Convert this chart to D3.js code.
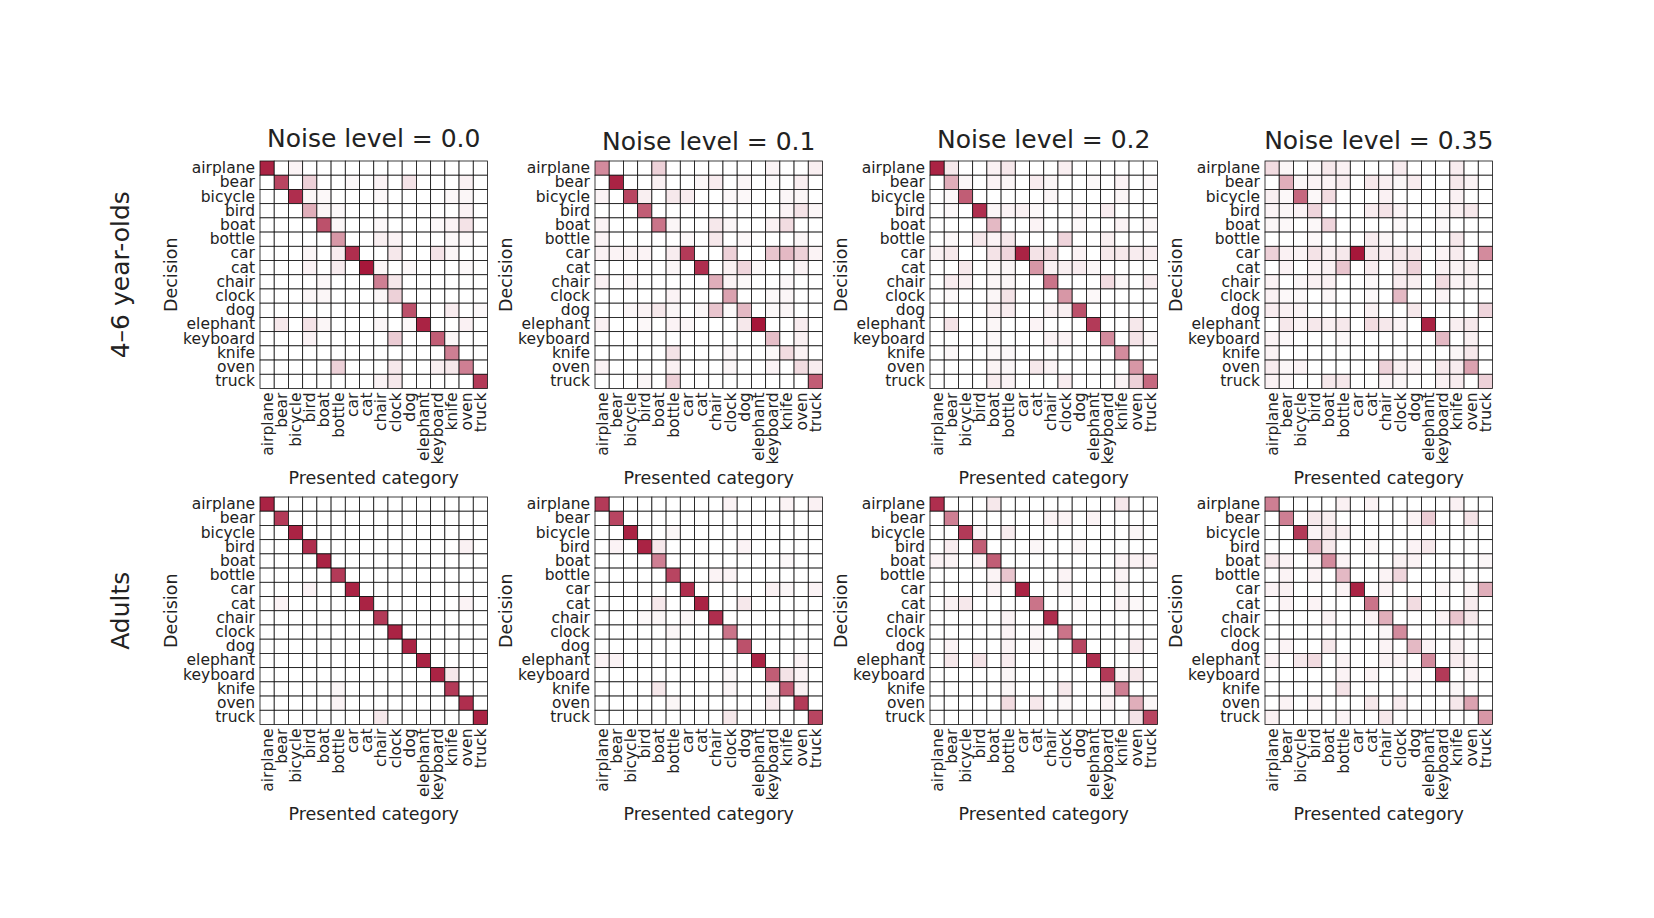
<!DOCTYPE html>
<html>
<head>
<meta charset="utf-8">
<script src="https://cdn.jsdelivr.net/npm/d3@7"></script>
<style>
  html, body { margin: 0; padding: 0; background: #fff; }
  svg text { font-family: "DejaVu Sans", sans-serif; fill: #222; }
</style>
</head>
<body>
<svg id="chart" width="1654" height="918"></svg>
<script>
// Categories (presented = columns, decision = rows)
const CATEGORIES = ["airplane", "bear", "bicycle", "bird", "boat", "bottle", "car", "cat",
  "chair", "clock", "dog", "elephant", "keyboard", "knife", "oven", "truck"];
const NOISE_LEVELS = ["0.0", "0.1", "0.2", "0.35"];
const GROUPS = ["4\u20136 year-olds", "Adults"];

// Response proportions in percent, rows = decision, cols = presented category
const KIDS_00 = [
  [95,0,5,0,0,0,0,0,0,0,0,0,0,0,0,0],
  [0,80,0,20,0,0,3,0,5,0,12,0,0,0,6,0],
  [0,0,90,4,3,0,0,0,3,0,0,0,0,3,4,0],
  [0,0,0,35,4,3,0,0,0,0,0,0,0,0,5,0],
  [0,0,0,0,75,4,0,0,3,0,0,0,3,5,12,0],
  [0,0,0,0,0,45,0,0,7,5,0,0,0,3,3,0],
  [0,0,0,4,0,8,90,0,0,10,0,0,12,4,0,0],
  [0,0,0,5,0,8,0,100,4,0,3,0,0,0,3,0],
  [0,0,0,0,3,0,0,0,55,10,0,0,0,0,0,0],
  [0,0,0,4,4,0,0,0,4,20,0,0,0,0,0,0],
  [0,0,0,0,0,0,0,0,0,0,75,0,0,8,0,3],
  [0,10,0,12,4,0,0,0,4,0,3,95,0,0,6,0],
  [0,0,0,5,0,0,0,0,0,22,0,0,70,4,0,0],
  [0,0,0,0,0,0,0,0,0,0,0,0,0,55,0,0],
  [0,0,0,0,0,20,0,0,0,10,0,0,7,10,55,0],
  [0,0,0,0,0,0,0,0,5,10,0,0,0,0,0,85]
];
const KIDS_01 = [
  [50,0,0,0,20,0,0,0,0,0,0,0,5,0,0,7],
  [0,95,0,0,6,0,0,4,8,0,4,0,3,0,7,0],
  [5,0,80,7,0,10,8,0,0,3,3,0,0,4,4,0],
  [0,0,0,70,0,0,0,0,0,0,0,0,0,5,12,4],
  [5,0,0,0,60,4,0,0,10,4,0,0,6,15,0,0],
  [5,0,0,0,0,0,3,0,10,0,3,0,0,0,4,0],
  [6,5,6,5,0,8,85,0,0,20,0,0,25,30,20,5],
  [0,0,0,0,0,4,0,90,0,6,18,3,0,0,5,0],
  [6,0,4,0,0,0,0,0,35,5,3,0,0,3,0,0],
  [0,0,0,0,0,5,0,0,0,40,0,0,3,4,0,0],
  [0,0,4,5,10,4,0,4,25,3,30,0,3,4,0,0],
  [6,0,0,3,0,5,4,0,0,0,10,100,0,0,8,0],
  [0,0,0,0,0,0,0,0,0,0,0,0,28,0,6,0],
  [0,0,0,0,0,12,0,0,0,3,0,0,3,15,5,0],
  [5,0,0,0,0,6,0,0,0,4,0,0,5,0,15,8],
  [0,0,0,4,0,20,0,0,0,0,0,0,0,0,0,70]
];
const KIDS_02 = [
  [95,10,0,0,6,10,0,0,0,7,0,0,0,0,0,0],
  [0,35,4,0,5,4,0,8,4,0,0,3,0,5,0,3],
  [0,3,70,0,0,0,0,0,4,0,0,0,0,4,0,0],
  [0,3,0,90,4,5,6,3,0,0,3,0,8,0,0,0],
  [0,0,0,0,30,0,0,5,0,0,3,0,0,5,0,4],
  [0,3,0,10,5,10,0,0,0,18,0,0,7,0,0,0],
  [6,10,0,0,12,18,95,12,15,0,5,0,10,10,8,8],
  [0,0,10,0,4,4,0,45,6,7,8,4,0,0,0,0],
  [0,8,6,0,4,4,0,0,60,0,0,0,15,4,0,8],
  [0,3,0,0,4,12,0,0,0,45,0,3,0,0,0,0],
  [0,0,0,0,6,8,0,0,5,7,75,0,0,0,0,0],
  [0,12,0,0,4,0,0,5,0,0,0,85,0,0,10,0],
  [0,0,0,0,3,0,0,0,5,5,0,0,50,0,12,4],
  [0,3,0,0,3,3,0,0,0,0,0,0,0,50,0,0],
  [0,0,0,0,5,4,0,10,5,0,0,0,0,0,45,0],
  [0,0,0,0,8,5,0,0,0,8,0,0,0,5,20,65]
];
const KIDS_035 = [
  [15,4,0,3,10,6,0,0,0,8,0,0,0,8,0,0],
  [0,35,4,5,5,8,0,10,7,4,8,0,0,10,5,0],
  [7,3,65,3,15,0,0,0,6,0,0,0,0,6,0,0],
  [5,4,5,18,0,0,0,8,12,5,0,0,4,7,10,0],
  [4,3,0,3,18,0,0,0,0,3,0,0,3,0,0,0],
  [0,0,0,3,0,0,0,8,4,0,0,0,0,10,0,0],
  [20,6,5,12,7,10,100,10,8,10,10,0,5,8,0,50],
  [0,5,0,5,6,25,0,8,0,8,20,0,6,5,7,0],
  [5,0,4,6,6,0,0,3,0,8,7,0,15,5,5,0],
  [6,3,3,0,4,0,0,3,0,30,0,0,5,0,0,0],
  [8,6,5,0,0,0,0,6,0,0,10,0,0,0,0,18],
  [0,10,5,10,7,10,0,15,10,5,0,95,0,7,10,0],
  [5,3,0,0,0,3,0,0,0,0,0,0,30,0,6,0],
  [5,0,0,0,0,0,0,0,0,0,0,0,0,4,10,0],
  [8,4,5,0,0,0,0,0,20,7,5,0,10,8,40,0],
  [6,4,0,0,10,10,0,0,5,4,0,0,6,8,0,20]
];
const ADULTS_00 = [
  [95,0,0,0,0,0,0,0,0,0,0,0,0,0,0,0],
  [0,85,0,0,0,0,0,0,0,0,0,0,0,0,0,0],
  [0,0,95,0,0,0,0,0,0,0,0,0,0,0,0,0],
  [0,0,0,90,0,0,0,0,0,0,0,0,0,0,6,0],
  [0,0,0,0,95,0,0,0,0,0,0,0,0,0,0,0],
  [0,0,0,0,0,85,0,0,0,0,0,0,0,0,0,0],
  [0,0,0,5,0,0,95,0,0,0,0,0,0,0,0,0],
  [0,5,0,0,0,0,0,95,0,0,0,0,0,0,5,0],
  [0,0,0,0,0,0,0,0,85,0,0,0,0,0,0,0],
  [0,0,0,0,0,0,0,0,0,95,0,0,0,0,0,0],
  [0,0,0,0,0,0,0,0,0,0,95,0,0,0,0,0],
  [0,0,0,0,0,0,0,0,0,0,0,95,0,0,0,0],
  [0,0,0,0,0,0,0,0,0,0,0,0,95,10,0,0],
  [0,0,0,0,0,4,0,0,0,0,0,0,0,85,0,0],
  [0,0,0,0,0,5,0,0,0,0,0,0,0,0,90,0],
  [0,0,0,0,0,0,0,0,10,0,0,0,0,0,0,95]
];
const ADULTS_01 = [
  [85,0,0,0,0,0,0,0,0,5,0,0,0,5,0,6],
  [0,80,0,0,0,0,0,0,0,0,0,0,0,0,0,0],
  [0,0,95,0,0,4,0,0,0,0,0,0,0,0,0,0],
  [0,5,0,95,10,0,0,0,0,0,5,0,0,0,0,0],
  [0,0,0,0,55,0,0,0,0,0,0,0,0,3,0,0],
  [0,0,0,0,0,80,0,0,5,5,0,0,0,0,0,0],
  [0,0,0,0,0,0,90,0,0,0,0,0,6,4,0,5],
  [0,0,0,0,10,0,0,95,0,0,10,0,0,0,0,0],
  [0,0,0,3,4,0,4,0,90,0,0,0,0,0,0,0],
  [0,0,0,0,0,4,0,0,0,60,0,0,0,0,0,0],
  [0,0,0,0,0,0,0,0,0,0,75,0,0,0,0,0],
  [5,5,0,0,0,0,0,0,0,0,0,95,0,0,5,0],
  [0,0,0,0,0,0,0,0,0,3,0,0,70,12,5,0],
  [0,0,0,0,10,0,0,0,0,4,0,0,6,70,6,0],
  [0,0,0,0,0,4,0,0,0,0,0,0,10,0,85,0],
  [0,0,0,0,0,0,0,0,0,10,0,0,0,0,0,80]
];
const ADULTS_02 = [
  [90,0,0,0,10,0,0,0,0,0,0,0,0,10,0,0],
  [0,55,0,0,0,0,0,0,5,5,0,5,0,0,0,0],
  [0,0,85,3,0,8,0,0,0,0,0,0,0,0,4,0],
  [0,8,0,70,0,0,0,4,0,0,4,0,0,0,0,0],
  [5,5,0,5,70,0,0,0,0,0,0,0,0,5,6,5],
  [0,0,0,0,5,25,0,0,0,5,0,0,0,5,0,0],
  [0,0,0,0,5,0,95,0,0,4,0,0,0,4,0,0],
  [0,6,10,0,0,0,0,60,0,0,3,0,0,5,3,0],
  [0,0,0,0,0,5,0,0,90,0,0,0,0,0,0,0],
  [0,0,0,0,0,5,0,4,0,60,0,0,0,0,0,0],
  [0,5,0,0,0,5,0,4,0,0,80,0,0,0,8,0],
  [0,10,0,12,0,8,0,0,0,0,0,90,0,0,0,0],
  [0,0,0,0,0,4,0,0,0,0,0,0,85,5,10,0],
  [0,0,0,0,0,4,0,0,0,10,0,0,5,55,0,0],
  [0,0,0,0,0,15,0,10,0,4,0,0,5,0,35,4],
  [0,0,0,0,0,0,0,0,0,0,0,0,0,0,12,80]
];
const ADULTS_035 = [
  [55,0,0,0,0,6,0,5,0,0,0,0,0,6,0,0],
  [0,55,0,10,7,0,0,0,0,0,5,22,0,0,12,0],
  [0,0,85,5,10,7,0,0,0,0,0,0,0,0,0,0],
  [0,0,0,30,10,0,0,4,0,0,5,10,0,0,0,0],
  [10,5,0,5,50,5,0,0,0,6,5,0,0,0,0,4],
  [0,5,0,5,0,30,0,0,5,18,0,0,0,4,0,0],
  [5,6,0,0,0,5,95,0,5,0,0,0,4,0,5,35],
  [0,5,0,5,0,0,0,60,0,0,15,0,0,0,8,0],
  [0,0,0,0,5,0,0,5,35,0,0,0,5,25,10,0],
  [0,0,0,0,0,0,0,0,4,50,0,0,0,0,0,0],
  [0,5,0,0,10,0,0,0,5,0,30,5,0,7,0,0],
  [6,0,10,15,0,5,0,0,5,5,0,50,0,8,5,0],
  [0,0,0,0,0,5,0,5,0,0,5,0,85,0,5,0],
  [0,0,0,0,0,12,0,0,0,0,0,0,0,4,0,0],
  [0,5,0,5,0,0,0,10,0,8,0,0,0,10,40,0],
  [6,0,0,0,0,5,0,0,10,0,0,0,0,0,0,45]
];

const MATRICES = [
  [KIDS_00, KIDS_01, KIDS_02, KIDS_035],
  [ADULTS_00, ADULTS_01, ADULTS_02, ADULTS_035]
];

// Layout
const LEFT0 = 260, DX = 335, SIZE = 227.5;
const TOPS = [161, 497];
const TITLE_Y = [147, 150, 148, 149];
const TICK_FONT = "15.5px";

const svg = d3.select("#chart");
const color = d3.scaleLinear().domain([0, 100]).range(["#ffffff", "#a6173a"]).clamp(true);
const x = d3.scaleBand().domain(CATEGORIES).range([0, SIZE]);
const y = d3.scaleBand().domain(CATEGORIES).range([0, SIZE]);

MATRICES.forEach((row, gi) => {
  // group label
  svg.append("text")
    .attr("transform", `translate(120,${TOPS[gi] + SIZE / 2}) rotate(-90)`)
    .attr("text-anchor", "middle")
    .attr("dy", "0.35em")
    .style("font-size", "25px")
    .text(GROUPS[gi]);

  row.forEach((mat, ni) => {
    const g = svg.append("g").attr("transform", `translate(${LEFT0 + ni * DX},${TOPS[gi]})`);

    const cells = [];
    mat.forEach((r, ri) => r.forEach((v, ci) => cells.push({ row: CATEGORIES[ri], col: CATEGORIES[ci], v })));

    g.selectAll("rect.cell")
      .data(cells).join("rect")
      .attr("class", "cell")
      .attr("x", d => x(d.col)).attr("y", d => y(d.row))
      .attr("width", x.bandwidth()).attr("height", y.bandwidth())
      .attr("fill", d => color(d.v))
      .attr("stroke", "#111").attr("stroke-width", 0.8);

    // y axis (decision)
    const ya = g.append("g").call(d3.axisLeft(y).tickSize(0).tickPadding(5));
    ya.select(".domain").remove();
    ya.selectAll("text").style("font-size", TICK_FONT).attr("fill", "#222").style("font-family", "DejaVu Sans");

    // x axis (presented category), rotated labels
    const xa = g.append("g").attr("transform", `translate(0,${SIZE})`)
      .call(d3.axisBottom(x).tickSize(0).tickPadding(4));
    xa.select(".domain").remove();
    xa.selectAll("text")
      .attr("transform", "rotate(-90)")
      .attr("x", -4).attr("y", 0).attr("dy", "0.35em")
      .attr("text-anchor", "end")
      .attr("fill", "#222")
      .style("font-size", TICK_FONT).style("font-family", "DejaVu Sans");

    g.append("text")
      .attr("x", SIZE / 2).attr("y", SIZE + 95)
      .attr("text-anchor", "middle")
      .style("font-size", "17.5px")
      .text("Presented category");

    g.append("text")
      .attr("transform", `translate(-89,${SIZE / 2}) rotate(-90)`)
      .attr("text-anchor", "middle")
      .attr("dy", "0.35em")
      .style("font-size", "17.5px")
      .text("Decision");

    if (gi === 0) {
      svg.append("text")
        .attr("x", LEFT0 + ni * DX + SIZE / 2).attr("y", TITLE_Y[ni])
        .attr("text-anchor", "middle")
        .style("font-size", "25px")
        .text(`Noise level = ${NOISE_LEVELS[ni]}`);
    }
  });
});
</script>
</body>
</html>
